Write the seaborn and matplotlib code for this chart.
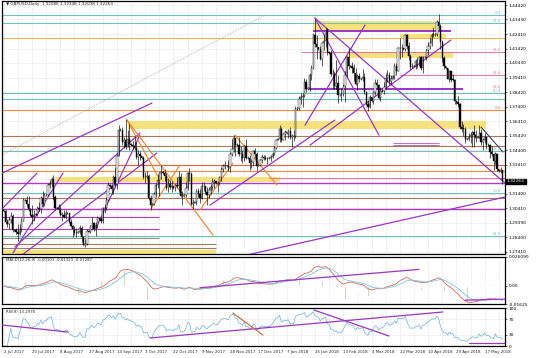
import numpy as np
import pandas as pd
import matplotlib
matplotlib.use("Agg")
import matplotlib.pyplot as plt
import matplotlib.transforms as mtransforms
import seaborn as sns

# ---------------- data (GBPUSD daily, Sunday bars included) ----------------
first_open = 1.3026
close = [
 1.3020,1.2945,1.2935,1.2958,1.2990,1.2890, 1.2888,1.2880,1.2860,1.2897,1.2956,1.3100,
 1.3095,1.3067,1.3037,1.2993,1.2978,1.2997, 1.3000,1.3044,1.3032,1.3111,1.3069,1.3132,
 1.3135,1.3203,1.3210,1.3243,1.3116,1.3045, 1.3040,1.3036,1.2995,1.2995,1.2983,1.3008,
 1.3005,1.2944,1.2920,1.2895,1.2870,1.2872, 1.2878,1.2904,1.2845,1.2790,1.2795,1.2885,
 1.2880,1.2919,1.2937,1.2898,1.2922,1.2970, 1.2965,1.2953,1.3039,1.3045,1.3095,1.3201,
 1.3195,1.3170,1.3256,1.3209,1.3403,1.3583, 1.3580,1.3497,1.3508,1.3464,1.3521,1.3487,
 1.3480,1.3470,1.3453,1.3393,1.3418,1.3398, 1.3390,1.3254,1.3257,1.3265,1.3110,1.3063,
 1.3070,1.3140,1.3203,1.3233,1.3283,1.3290, 1.3285,1.3264,1.3183,1.3205,1.3190,1.3194,
 1.3180,1.3201,1.3197,1.3257,1.3128,1.3125, 1.3130,1.3181,1.3281,1.3280,1.3072,1.3077,
 1.3085,1.3162,1.3139,1.3109,1.3194,1.3192, 1.3150,1.3130,1.3167,1.3184,1.3222,1.3228,
 1.3215,1.3218,1.3256,1.3309,1.3333,1.3335, 1.3330,1.3325,1.3416,1.3450,1.3527,1.3475,
 1.3480,1.3415,1.3416,1.3387,1.3468,1.3386, 1.3390,1.3354,1.3361,1.3432,1.3417,1.3333,
 1.3340,1.3374,1.3397,1.3389,1.3380,1.3384, 1.3385,1.3397,1.3412,1.3457,1.3513,
 1.3515,1.3588,1.3514,1.3551,1.3565,
 1.3560,1.3576,1.3534,1.3537,1.3538,1.3725, 1.3730,1.3794,1.3805,1.3818,1.3911,1.3862,
 1.3870,1.3963,1.4011,1.4234,1.4170,1.4150, 1.4140,1.4068,1.4181,1.4191,1.4266,1.4119,
 1.4110,1.3965,1.3967,1.3882,1.3903,1.3825, 1.3820,1.3829,1.3884,1.3961,1.4081,1.4023,
 1.4020,1.4008,1.3972,1.3900,1.3954,1.3930, 1.3935,1.3944,1.3843,1.3763,1.3737,1.3806,
 1.3780,1.3842,1.3906,1.3891,1.3804,1.3849, 1.3850,1.3875,1.3942,1.3963,1.3916,1.3930,
 1.3950,1.4023,1.3985,1.4147,1.4143,1.4144, 1.4140,1.4238,1.4159,1.4091,1.4016,1.4024,
 1.4020,1.4054,1.4057,1.4085,1.4008,1.4083, 1.4085,1.4129,1.4160,1.4180,1.4238,1.4237,
 1.4240,1.4327,1.4296,1.4186,1.4080,1.4021, 1.4010,1.3935,1.3986,1.3928,1.3927,1.3777,
 1.3770,1.3763,1.3604,1.3590,1.3589,1.3519, 1.3515,1.3535,1.3543,1.3565,1.3549,1.3524,
 1.3530,1.3562,1.3498,1.3511,1.3529,1.3475, 1.3480,1.3428,1.3412,1.3365,1.3417,1.3311,
 1.3300,1.3302,1.3226]
high = [
 1.3030,1.3030,1.2965,1.2978,1.3014,1.3000, 1.2895,1.2905,1.2929,1.2930,1.2970,1.3113,
 1.3102,1.3126,1.3126,1.3045,1.3060,1.3030, 1.3005,1.3055,1.3082,1.3124,1.3158,1.3144,
 1.3140,1.3212,1.3234,1.3255,1.3268,1.3135, 1.3048,1.3070,1.3060,1.3015,1.3030,1.3030,
 1.3012,1.3010,1.2968,1.2928,1.2916,1.2904, 1.2885,1.2925,1.2920,1.2851,1.2826,1.2900,
 1.2890,1.2925,1.2978,1.2949,1.2945,1.2985, 1.2975,1.2978,1.3050,1.3070,1.3115,1.3225,
 1.3205,1.3210,1.3267,1.3325,1.3414,1.3615, 1.3595,1.3600,1.3530,1.3657,1.3582,1.3620,
 1.3490,1.3505,1.3540,1.3500,1.3442,1.3434, 1.3400,1.3400,1.3290,1.3296,1.3280,1.3133,
 1.3080,1.3156,1.3214,1.3275,1.3293,1.3338, 1.3295,1.3310,1.3285,1.3248,1.3237,1.3230,
 1.3190,1.3210,1.3258,1.3300,1.3283,1.3160, 1.3138,1.3220,1.3290,1.3320,1.3290,1.3106,
 1.3092,1.3170,1.3180,1.3175,1.3220,1.3225, 1.3160,1.3190,1.3190,1.3206,1.3250,1.3245,
 1.3222,1.3230,1.3266,1.3322,1.3344,1.3366, 1.3338,1.3370,1.3430,1.3515,1.3549,1.3526,
 1.3490,1.3535,1.3470,1.3440,1.3478,1.3520, 1.3398,1.3406,1.3378,1.3444,1.3455,1.3430,
 1.3348,1.3380,1.3417,1.3410,1.3405,1.3395, 1.3392,1.3410,1.3430,1.3470,1.3520,
 1.3522,1.3613,1.3600,1.3560,1.3580,
 1.3568,1.3585,1.3600,1.3555,1.3578,1.3743, 1.3738,1.3813,1.3838,1.3835,1.3942,1.3932,
 1.3878,1.3970,1.4026,1.4248,1.4345,1.4238, 1.4148,1.4160,1.4190,1.4233,1.4282,1.4285,
 1.4118,1.4133,1.4000,1.3985,1.4066,1.3960, 1.3828,1.3870,1.3900,1.3990,1.4090,1.4145,
 1.4028,1.4050,1.4035,1.4005,1.3965,1.3973, 1.3942,1.4000,1.3975,1.3851,1.3777,1.3820,
 1.3790,1.3850,1.3930,1.3929,1.3900,1.3878, 1.3858,1.3910,1.3975,1.3995,1.3980,1.3960,
 1.3958,1.4045,1.4040,1.4150,1.4218,1.4170, 1.4148,1.4245,1.4240,1.4185,1.4105,1.4040,
 1.4028,1.4070,1.4085,1.4093,1.4090,1.4090, 1.4092,1.4140,1.4184,1.4217,1.4250,1.4290,
 1.4248,1.4340,1.4377,1.4310,1.4200,1.4090, 1.4018,1.4010,1.3996,1.3990,1.3965,1.3930,
 1.3780,1.3815,1.3768,1.3640,1.3620,1.3600, 1.3522,1.3563,1.3565,1.3576,1.3616,1.3580,
 1.3538,1.3615,1.3585,1.3525,1.3560,1.3533, 1.3488,1.3485,1.3470,1.3420,1.3430,1.3420,
 1.3308,1.3325,1.3235]
low = [
 1.3015,1.2935,1.2912,1.2900,1.2942,1.2880, 1.2882,1.2860,1.2812,1.2855,1.2880,1.2950,
 1.3090,1.3050,1.3020,1.2990,1.2930,1.2950, 1.2993,1.2990,1.3020,1.3010,1.3050,1.3057,
 1.3125,1.3125,1.3180,1.3190,1.3100,1.3030, 1.3035,1.3010,1.2990,1.2956,1.2976,1.2964,
 1.2998,1.2940,1.2910,1.2845,1.2853,1.2845, 1.2868,1.2860,1.2810,1.2788,1.2774,1.2790,
 1.2875,1.2870,1.2890,1.2883,1.2850,1.2905, 1.2958,1.2940,1.2940,1.3010,1.3030,1.3090,
 1.3185,1.3140,1.3140,1.3197,1.3170,1.3400, 1.3570,1.3480,1.3455,1.3450,1.3470,1.3440,
 1.3470,1.3450,1.3440,1.3380,1.3338,1.3375, 1.3382,1.3240,1.3212,1.3239,1.3100,1.3027,
 1.3060,1.3060,1.3120,1.3180,1.3125,1.3240, 1.3275,1.3230,1.3168,1.3150,1.3170,1.3150,
 1.3170,1.3160,1.3180,1.3150,1.3120,1.3062, 1.3122,1.3120,1.3165,1.3230,1.3060,1.3038,
 1.3078,1.3060,1.3120,1.3080,1.3105,1.3160, 1.3140,1.3062,1.3113,1.3140,1.3165,1.3183,
 1.3208,1.3150,1.3200,1.3230,1.3290,1.3310, 1.3322,1.3300,1.3290,1.3400,1.3427,1.3400,
 1.3470,1.3400,1.3365,1.3350,1.3365,1.3380, 1.3382,1.3302,1.3320,1.3330,1.3390,1.3300,
 1.3332,1.3330,1.3353,1.3370,1.3370,1.3346, 1.3378,1.3365,1.3385,1.3405,1.3450,
 1.3508,1.3500,1.3495,1.3510,1.3513,
 1.3552,1.3525,1.3520,1.3460,1.3506,1.3525, 1.3720,1.3721,1.3760,1.3740,1.3810,1.3845,
 1.3860,1.3850,1.3925,1.4000,1.4150,1.4070, 1.4132,1.4060,1.4020,1.4132,1.4150,1.4100,
 1.4102,1.3950,1.3860,1.3860,1.3860,1.3765, 1.3812,1.3780,1.3813,1.3770,1.3945,1.4000,
 1.4012,1.3975,1.3920,1.3890,1.3855,1.3912, 1.3928,1.3920,1.3830,1.3755,1.3712,1.3730,
 1.3772,1.3760,1.3820,1.3860,1.3792,1.3780, 1.3842,1.3830,1.3860,1.3910,1.3890,1.3890,
 1.3942,1.3930,1.3960,1.3985,1.4070,1.4085, 1.4132,1.4125,1.4140,1.4060,1.4000,1.4010,
 1.4012,1.4003,1.4010,1.4020,1.3995,1.3970, 1.4078,1.4060,1.4100,1.4140,1.4160,1.4225,
 1.4232,1.4230,1.4270,1.4140,1.4050,1.4000, 1.4000,1.3930,1.3910,1.3910,1.3915,1.3760,
 1.3762,1.3740,1.3585,1.3568,1.3540,1.3490, 1.3508,1.3505,1.3488,1.3460,1.3460,1.3500,
 1.3522,1.3525,1.3480,1.3445,1.3490,1.3450, 1.3472,1.3390,1.3400,1.3305,1.3344,1.3300,
 1.3292,1.3285,1.3205]

date_labels = ["2 Jul 2017", "20 Jul 2017", "8 Aug 2017", "27 Aug 2017", "14 Sep 2017",
               "3 Oct 2017", "22 Oct 2017", "9 Nov 2017", "28 Nov 2017", "17 Dec 2017",
               "7 Jan 2018", "25 Jan 2018", "13 Feb 2018", "4 Mar 2018", "22 Mar 2018",
               "10 Apr 2018", "29 Apr 2018", "17 May 2018"]
bars_per_label = 16
price_ticks = [1.44420, 1.43430, 1.42410, 1.41420, 1.40430, 1.39410, 1.38420, 1.37400,
               1.36410, 1.35420, 1.34400, 1.33410, 1.32420, 1.31400, 1.30410, 1.29390,
               1.28400, 1.27410]
hidden_tick = 1.32420          # covered by the current-price box in the reference
last_price = 1.32263
header = "\u25bc GBPUSD,Daily  1.32086 1.32348 1.32038 1.32263"
osma_mult = 3                   # histogram = 3 x (MACD - signal), as in the header values

# chart objects: horizontal levels (price, color)
full_levels = [(1.4373, "teal"), (1.4318, "teal"), (1.4214, "gold"), (1.3835, "teal"),
               (1.3794, "teal"), (1.3718, "orange"), (1.3539, "brown"), (1.3470, "brown"),
               (1.3435, "teal"), (1.3339, "red"), (1.3297, "orange"), (1.3214, "magenta"),
               (1.3145, "teal"), (1.3111, "brown"), (1.3035, "magenta"), (1.2849, "teal")]
# partial levels (price, bar start, bar end, color)
part_levels = [(1.4263, 175, 253, "purple"), (1.4118, 168, 284, "pink"),
               (1.3959, 224, 284, "pink"), (1.3863, 172, 260, "purple"),
               (1.3249, 150, 284, "pink"), (1.2980, -1, 88, "magenta"),
               (1.2897, -1, 88, "magenta"), (1.2835, -1, 88, "grey"),
               (1.2794, -1, 120, "brown"), (1.2766, -1, 120, "brown"),
               (1.3490, 220, 246, "thin"), (1.3474, 220, 246, "thin")]
# zones (price top, price bottom, bar start, bar end)
zones = [(1.4332, 1.4270, 175, 247), (1.4242, 1.4214, 224, 250), (1.4111, 1.4077, 194, 254),
         (1.3642, 1.3587, 70, 273), (1.3256, 1.3221, 29, 156), (1.2752, 1.2718, -1, 120)]
# trend lines (bar0, price0, bar1, price1, color)
trend_lines = [(-1.0, 1.3408, 147.7, 1.4373, "dotted"),
               (-1.0, 1.3283, 83.8, 1.3766, "purple"), (-0.5, 1.3042, 18.8, 1.3283, "purple"),
               (5.2, 1.2732, 33.5, 1.3283, "purple"), (6.3, 1.2773, 77.0, 1.3559, "purple"),
               (10.3, 1.2718, 86.6, 1.3421, "purple"), (51.6, 1.2890, 77.0, 1.3545, "purple"),
               (69.7, 1.3649, 118.3, 1.2856, "orange"), (69.7, 1.3649, 88.3, 1.3235, "orange"),
               (82.7, 1.3028, 99.7, 1.3339, "orange"), (130.8, 1.3545, 154.5, 1.3201, "orange"),
               (111.0, 1.3028, 129.6, 1.3352, "orange"), (116.6, 1.3062, 187.3, 1.3649, "purple"),
               (176.0, 1.4352, 283.5, 1.3214, "purple"), (176.0, 1.4352, 212.2, 1.3545, "purple"),
               (173.2, 1.3476, 252.9, 1.4201, "purple"), (170.4, 1.3614, 204.3, 1.4304, "purple"),
               (137.5, 1.2718, 283.5, 1.3118, "purple"), (269.9, 1.3601, 282.4, 1.3428, "navy")]
fib_labels = [("0.0", 1.4373, "teal"), ("23.6", 1.4318, "teal"), ("38.2", 1.4118, "pink"),
              ("61.8", 1.3959, "pink"), ("23.6", 1.3863, "pink"), ("50.0", 1.3835, "teal"),
              ("0.0", 1.3718, "orange"), ("38.2", 1.3435, "teal"), ("50.0", 1.3145, "teal"),
              ("61.8", 1.2849, "teal")]
macd_lines = [(110.9, -0.0016, 234.8, 0.0149), (260.9, -0.0128, 283.5, -0.0119)]
rsi_lines = [(-1.0, 55.3, 36.3, 36.8, "purple"), (82.7, 21.0, 248.4, 89.5, "purple"),
             (175.4, 94.7, 217.9, 26.3, "purple"), (129.6, 86.8, 146.6, 28.9, "orange"),
             (263.1, 7.9, 283.5, 7.9, "purple")]

COL = {"teal": "#6ec3bd", "gold": "#e6b84c", "orange": "#f08a3c", "red": "#e8603c",
       "brown": "#a57a5a", "magenta": "#b23cc0", "purple": "#9a35c4", "pink": "#e27aa6",
       "grey": "#9a9088", "navy": "#2a2a60", "dotted": "#c49a9a", "thin": "#9a35c4"}

# ---------------- derived series ----------------
n = len(close)
idx = np.arange(n)
opens = [first_open] + close[:-1]
s = pd.Series(close)
ema12 = s.ewm(span=12, adjust=False).mean()
ema26 = s.ewm(span=26, adjust=False).mean()
macd = ema12 - ema26
signal = macd.ewm(span=9, adjust=False).mean()
osma = (macd - signal) * osma_mult
delta = s.diff().fillna(0)
gain = delta.clip(lower=0).ewm(alpha=1 / 9, adjust=False).mean()
loss = (-delta.clip(upper=0)).ewm(alpha=1 / 9, adjust=False).mean()
rsi = 100 - 100 / (1 + gain / loss.replace(0, 1e-9))

# ---------------- figure ----------------
sns.set_style("white")
plt.rcParams["font.family"] = ["DejaVu Sans"]
fig = plt.figure(figsize=(5.36, 3.58), dpi=100)
W, H = 536.0, 358.0
L, R = 2 / W, 503 / W
ax = fig.add_axes([L, 1 - 254 / H, R, 253 / H])
axm = fig.add_axes([L, 1 - 304 / H, R, 47 / H], sharex=ax)
axr = fig.add_axes([L, 1 - 346 / H, R, 38 / H], sharex=ax)

xmin, xmax = -1.0, 283.5
grid_x = np.arange(0, n + 8, bars_per_label // 2)
for a in (ax, axm, axr):
    a.set_xlim(xmin, xmax)
    for gx in grid_x:
        a.axvline(gx, color="#c8c8c8", lw=0.4, ls=(0, (1, 1.5)), zorder=0)
    for sp in a.spines.values():
        sp.set_color("black")
        sp.set_linewidth(0.9)
    a.yaxis.tick_right()
    a.tick_params(axis="y", labelsize=3.2, length=1.5, width=0.4, pad=1, colors="black")
    a.tick_params(axis="x", length=0)

# main panel
ax.set_ylim(1.2725, 1.4470)
ax.set_yticks(price_ticks)
ax.set_yticklabels(["" if abs(p - hidden_tick) < 1e-9 else f"{p:.5f}" for p in price_ticks])
for p in price_ticks:
    ax.axhline(p, color="#c8c8c8", lw=0.4, ls=(0, (1, 1.5)), zorder=0)

for (pt, pb, b0, b1) in zones:
    ax.fill_between([b0, b1], pb, pt, color="#f6e27c", lw=0, zorder=1)
for (p, c) in full_levels:
    ax.axhline(p, color=COL[c], lw=0.8 if c != "magenta" else 1.0, zorder=2)
for (p, b0, b1, c) in part_levels:
    lw = {"purple": 1.4, "thin": 0.5}.get(c, 0.8)
    ax.plot([b0, b1], [p, p], color=COL[c], lw=lw, zorder=2, solid_capstyle="butt")
for (b0, p0, b1, p1, c) in trend_lines:
    if c == "dotted":
        ax.plot([b0, b1], [p0, p1], color=COL[c], lw=0.6, ls=(0, (1, 1.2)), zorder=2)
    else:
        ax.plot([b0, b1], [p0, p1], color=COL[c], lw=0.9 if c != "navy" else 0.7, zorder=3)
for (t, p, c) in fib_labels:
    ax.text(281, p + 0.0002, t, color=COL[c], fontsize=2.6, ha="right", va="bottom", zorder=4)

# candles
o = np.array(opens); c_ = np.array(close); h = np.array(high); l_ = np.array(low)
hi = np.maximum.reduce([h, o, c_]); lo = np.minimum.reduce([l_, o, c_])
ax.vlines(idx, lo, hi, color="black", lw=0.45, zorder=5)
up = c_ >= o
body = np.where(np.abs(c_ - o) < 0.00025, 0.00025, np.abs(c_ - o))
bot = np.minimum(o, c_)
ax.bar(idx[up], body[up], bottom=bot[up], width=0.75, color="white", edgecolor="black",
       linewidth=0.3, zorder=6)
ax.bar(idx[~up], body[~up], bottom=bot[~up], width=0.75, color="black", edgecolor="black",
       linewidth=0.3, zorder=6)

ax.text(0.008, 0.997, header, transform=ax.transAxes, fontsize=3.0, va="top", ha="left", zorder=7)
trans = mtransforms.blended_transform_factory(ax.transAxes, ax.transData)
ax.text(1.004, last_price, f"{last_price:.5f}", transform=trans, fontsize=3.2, color="white",
        va="center", ha="left", zorder=8,
        bbox=dict(boxstyle="square,pad=0.15", fc="black", ec="black"))
ax.tick_params(axis="x", labelbottom=False)

# MACD panel
axm.set_ylim(-0.01625, 0.02609)
axm.bar(idx, osma.values, width=0.6, color="#a3b57a", zorder=2)
sns.lineplot(x=idx, y=macd.values, ax=axm, color="#cf6a5a", lw=0.6, zorder=3)
sns.lineplot(x=idx, y=signal.values, ax=axm, color="#7cc3e0", lw=0.6, zorder=3)
axm.axhline(0, color="#c8c8c8", lw=0.4, ls=(0, (1, 1.5)), zorder=0)
for (b0, v0, b1, v1) in macd_lines:
    axm.plot([b0, b1], [v0, v1], color=COL["purple"], lw=0.9, zorder=4)
axm.set_yticks([-0.01625, 0.0, 0.02609])
axm.set_yticklabels(["-0.01625", "0.00", "0.026090"])
axm.set_ylabel(""); axm.set_xlabel("")
axm.tick_params(axis="x", labelbottom=False)
axm.text(0.008, 0.97, "MACD(12,26,9) -0.00101 -0.01321 -0.01287", transform=axm.transAxes,
         fontsize=2.8, va="top", ha="left")

# RSI panel
axr.set_ylim(0, 100)
sns.lineplot(x=idx, y=rsi.values, ax=axr, color="#6aaede", lw=0.5, zorder=3)
for lv in (30, 70):
    axr.axhline(lv, color="#c8c8c8", lw=0.4, ls=(0, (1, 1.5)), zorder=0)
for (b0, v0, b1, v1, c) in rsi_lines:
    axr.plot([b0, b1], [v0, v1], color=COL[c] if c != "orange" else "#c8743c", lw=0.9, zorder=4)
axr.set_yticks([0, 30, 70, 100])
axr.set_yticklabels(["0", "30", "70", "100"])
axr.set_ylabel(""); axr.set_xlabel("")
axr.text(0.008, 0.96, "RSI(9) 13.2970", transform=axr.transAxes, fontsize=2.8, va="top", ha="left")
tick_pos = np.arange(len(date_labels)) * bars_per_label
axr.set_xticks(tick_pos)
axr.set_xticklabels(date_labels, fontsize=2.9, ha="left")
axr.tick_params(axis="x", length=1.5, width=0.4, pad=1.5, labelbottom=True)

fig.savefig("out.png", dpi=100, facecolor="white")
